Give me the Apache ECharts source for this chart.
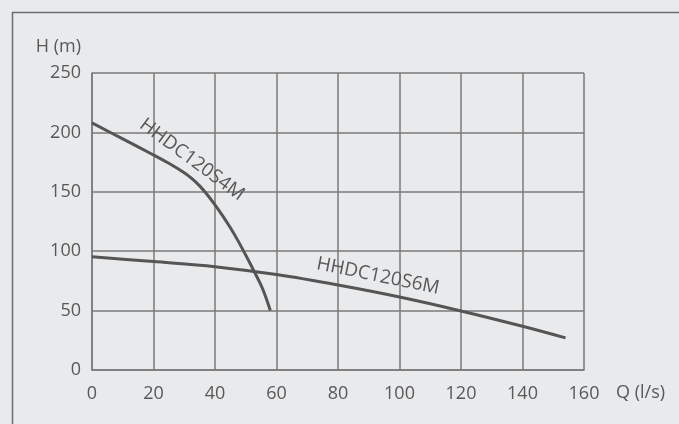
<!DOCTYPE html>
<html><head><meta charset="utf-8">
<script src="https://cdn.jsdelivr.net/npm/echarts@6/dist/echarts.min.js"></script>
<style>html,body{margin:0;padding:0;background:#e9eaec;}#c{width:679px;height:424px;}</style>
</head><body><div id="c"></div>
<script>
const xTicks = [0, 20, 40, 60, 80, 100, 120, 140, 160];
const yTicks = [0, 50, 100, 150, 200, 250];
const s4mName = 'HHDC120S4M';
const s4mQ = [0, 10, 20, 25, 30, 32.5, 35, 37.5, 40, 42.5, 45, 47.5, 50, 52.5, 55, 56.5, 58];
const s4mH = [208, 194.5, 181, 174, 166, 161, 155, 147.5, 139, 129.7, 119.7, 108.7, 96.7, 84.2, 71.2, 61.5, 50];
const s6mName = 'HHDC120S6M';
const s6mQ = [0, 20, 40, 60, 80, 100, 120, 140, 154];
const s6mH = [95.3, 91.3, 87, 80.3, 71.5, 61.4, 49.7, 36.8, 27];

const chart = echarts.init(document.getElementById('c'));
const txt = '#585858';
const gridCol = '#7a7a7a';
const font = 'Open Sans';
const fs = 18;
function pairs(q, h) { return q.map((v, i) => [v, h[i]]); }
chart.setOption({
  backgroundColor: '#e9eaec',
  animation: false,
  grid: { left: 92, right: 95, top: 73, bottom: 54 },
  xAxis: {
    type: 'value', min: 0, max: 160, interval: 20,
    name: 'Q (l/s)', nameLocation: 'end', nameGap: 32,
    nameTextStyle: { color: txt, fontSize: fs, fontFamily: font, align: 'left', verticalAlign: 'top', padding: [14, 0, 0, 0] },
    axisLine: { show: true, lineStyle: { color: gridCol, width: 1.5 } },
    axisTick: { show: false },
    axisLabel: { color: txt, fontSize: fs, fontFamily: font, margin: 15 },
    splitLine: { show: true, lineStyle: { color: gridCol, width: 1.5 } }
  },
  yAxis: {
    type: 'value', min: 0, max: 250, interval: 50,
    name: 'H (m)', nameLocation: 'end', nameGap: 17,
    nameTextStyle: { color: txt, fontSize: fs, fontFamily: font, align: 'right', padding: [0, 11, 0, 0] },
    axisLine: { show: true, lineStyle: { color: gridCol, width: 1.5 } },
    axisTick: { show: false },
    axisLabel: { color: txt, fontSize: fs, fontFamily: font, margin: 11 },
    splitLine: { show: true, lineStyle: { color: gridCol, width: 1.5 } }
  },
  series: [
    { name: s4mName, type: 'line', smooth: 0.3, symbol: 'none', data: pairs(s4mQ, s4mH),
      lineStyle: { color: '#555', width: 3 } },
    { name: s6mName, type: 'line', smooth: 0.35, symbol: 'none', data: pairs(s6mQ, s6mH),
      lineStyle: { color: '#555', width: 3 } }
  ]
});
const p1 = chart.convertToPixel({ gridIndex: 0 }, [32.5, 177]);
const p2 = chart.convertToPixel({ gridIndex: 0 }, [93, 79]);
chart.setOption({
  graphic: [
    { type: 'rect', left: 10, top: 10, shape: { width: 720, height: 460 }, silent: true,
      style: { fill: 'none', stroke: '#6e6e6e', lineWidth: 1.5 } },
    { type: 'text', x: p1[0], y: p1[1], rotation: -0.635,
      style: { text: s4mName, fill: txt, font: '19px "Open Sans"', align: 'center', verticalAlign: 'middle' } },
    { type: 'text', x: p2[0], y: p2[1], rotation: -0.2,
      style: { text: s6mName, fill: txt, font: '19px "Open Sans"', align: 'center', verticalAlign: 'middle' } }
  ]
});
</script></body></html>
